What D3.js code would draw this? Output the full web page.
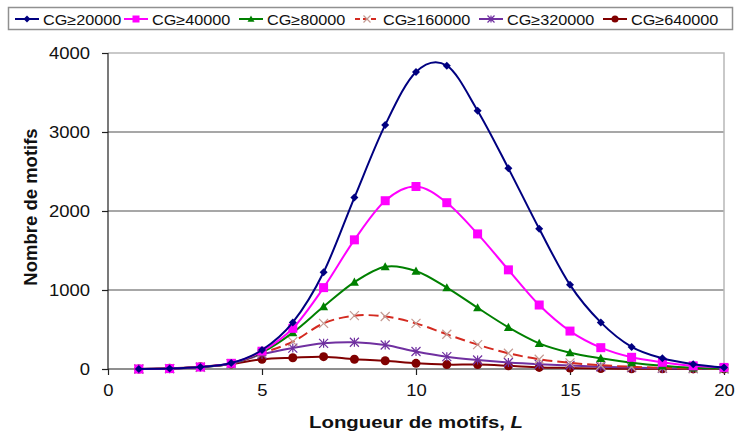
<!DOCTYPE html>
<html>
<head>
<meta charset="utf-8">
<script src="https://cdn.jsdelivr.net/npm/d3@7"></script>
<style>
    body { margin: 0; background: white; }
    svg { display: block; font-family: "Liberation Sans", Arial, sans-serif; }
</style>
</head>
<body>
<svg id="chart"></svg>
<script>

// longueur de motifs
let lengths = [1, 2, 3, 4, 5, 6, 7, 8, 9, 10, 11, 12, 13, 14, 15, 16, 17, 18, 19, 20];

let cg20000  = [0, 5, 25, 75, 240, 590, 1225, 2170, 3090, 3760, 3840, 3270, 2540, 1775, 1065, 590, 280, 135, 60, 18];
let cg40000  = [0, 5, 25, 72, 225, 515, 1030, 1635, 2130, 2310, 2105, 1710, 1255, 810, 480, 270, 148, 85, 40, 20];
let cg80000  = [0, 5, 24, 70, 210, 460, 790, 1100, 1295, 1240, 1030, 775, 528, 325, 206, 135, 80, 40, 15, 5];
let cg160000 = [0, 5, 24, 68, 200, 346, 578, 675, 665, 578, 440, 308, 199, 123, 78, 48, 28, 15, 8, 3];
let cg320000 = [0, 4, 22, 65, 185, 265, 325, 338, 304, 222, 156, 114, 82, 60, 45, 28, 17, 10, 5, 2];
let cg640000 = [0, 8, 29, 63, 123, 143, 156, 123, 104, 72, 56, 56, 40, 20, 13, 5, 3, 2, 1, 1];

let seriesNames = ["CG≥20000", "CG≥40000", "CG≥80000", "CG≥160000", "CG≥320000", "CG≥640000"];

let xTicks = [0, 5, 10, 15, 20];
let yTicks = [0, 1000, 2000, 3000, 4000];

let series = [
    { name: seriesNames[0], values: cg20000,  color: "#000080", marker: "diamond",  dash: null },
    { name: seriesNames[1], values: cg40000,  color: "#FF00FF", marker: "square",   dash: null },
    { name: seriesNames[2], values: cg80000,  color: "#008000", marker: "triangle", dash: null },
    { name: seriesNames[3], values: cg160000, color: "#D42A20", marker: "cross",    dash: "10,5", markerColor: "#C49A92" },
    { name: seriesNames[4], values: cg320000, color: "#7030A0", marker: "star",     dash: null },
    { name: seriesNames[5], values: cg640000, color: "#800000", marker: "circle",   dash: null }
];

let width = 736;
let height = 441;

let plotLeft = 108, plotRight = 724, plotTop = 53, plotBottom = 369;

// the original picture has its text a bit wider than plain Arial
let stretch = 1.12;

let svg = d3.select("#chart")
    .attr("width", width)
    .attr("height", height);

let scaleX = d3.scaleLinear().domain([0, 20]).range([plotLeft, plotRight]);
let scaleY = d3.scaleLinear().domain([0, 4000]).range([plotBottom, plotTop]);

// GRID + PLOT BORDER
svg.append("g")
    .selectAll("line")
    .data(yTicks.filter(t => t > 0 && t < 4000))
    .enter()
    .append("line")
    .attr("x1", plotLeft)
    .attr("x2", plotRight)
    .attr("y1", d => scaleY(d))
    .attr("y2", d => scaleY(d))
    .attr("stroke", "#505050")
    .attr("stroke-width", 1.2);

svg.append("path")
    .attr("d", `M${plotLeft},${scaleY(4000)}H${plotRight}V${plotBottom}`)
    .attr("fill", "none")
    .attr("stroke", "#b8b8b8")
    .attr("stroke-width", 1.5);

// AXES
let yAxis = d3.axisLeft(scaleY).tickValues(yTicks).tickFormat(d3.format("d")).tickSize(6).tickPadding(12);
let xAxis = d3.axisBottom(scaleX).tickValues(xTicks).tickFormat(d3.format("d")).tickSize(6).tickPadding(9);

let gy = svg.append("g").attr("transform", `translate(${plotLeft},0)`).call(yAxis);
let gx = svg.append("g").attr("transform", `translate(0,${plotBottom})`).call(xAxis);

for (let g of [gx, gy]) {
    g.select(".domain").attr("stroke", "#202020").attr("stroke-width", 1.2);
    g.selectAll(".tick line").attr("stroke", "#202020").attr("stroke-width", 1.2);
    g.selectAll(".tick text")
        .style("font-family", "'Liberation Sans', Arial, sans-serif")
        .style("font-size", "16.5px")
        .attr("fill", "#111")
        .each(function () {
            // widen around the anchor point
            let t = d3.select(this);
            let tx = +t.attr("x") || 0;
            let ty = +t.attr("y") || 0;
            t.attr("x", 0).attr("y", 0)
                .attr("transform", `translate(${tx},${ty}) scale(${stretch},1)`);
        });
}
gx.select(".domain").attr("d", `M${plotLeft},0H${plotRight}`);
gy.select(".domain").attr("d", `M0,${plotBottom}V${plotTop}`);

// AXIS TITLES
svg.append("text")
    .attr("transform", `translate(${(plotLeft + plotRight) / 2},428) scale(1.2,1)`)
    .attr("text-anchor", "middle")
    .style("font-size", "17px")
    .style("font-weight", "bold")
    .attr("fill", "#111")
    .html("Longueur de motifs, <tspan font-style='italic'>L</tspan>");

svg.append("text")
    .attr("transform", `translate(37,${(plotTop + plotBottom) / 2 - 4}) rotate(-90)`)
    .attr("text-anchor", "middle")
    .style("font-size", "18.5px")
    .style("font-weight", "bold")
    .attr("fill", "#111")
    .text("Nombre de motifs");

// MARKERS
function drawMarker(g, type, color, size) {
    let s = size / 2;
    if (type == "diamond") {
        g.append("path").attr("d", `M0,${-s}L${s},0L0,${s}L${-s},0Z`).attr("fill", color);
    } else if (type == "square") {
        g.append("rect").attr("x", -s).attr("y", -s).attr("width", size).attr("height", size).attr("fill", color);
    } else if (type == "triangle") {
        g.append("path").attr("d", `M0,${-s}L${s},${s * 0.8}L${-s},${s * 0.8}Z`).attr("fill", color);
    } else if (type == "circle") {
        g.append("circle").attr("r", s).attr("fill", color);
    } else if (type == "cross") {
        g.append("path").attr("d", `M${-s},${-s}L${s},${s}M${-s},${s}L${s},${-s}`)
            .attr("stroke", color).attr("stroke-width", 1.2);
    } else if (type == "star") {
        g.append("path").attr("d", `M${-s},${-s}L${s},${s}M${-s},${s}L${s},${-s}M0,${-s}V${s}`)
            .attr("stroke", color).attr("stroke-width", 1.2);
    }
}

let line = d3.line()
    .x((d, i) => scaleX(lengths[i]))
    .y(d => scaleY(d))
    .curve(d3.curveCardinal.tension(0));

let plot = svg.append("g");

// draw in reverse so the big series sits on top
for (let s of series.slice().reverse()) {
    let group = plot.append("g");

    group.append("path")
        .datum(s.values)
        .attr("d", line)
        .attr("fill", "none")
        .attr("stroke", s.color)
        .attr("stroke-width", 2)
        .attr("stroke-dasharray", s.dash);

    group.selectAll(".pt")
        .data(s.values)
        .enter()
        .append("g")
        .attr("class", "pt")
        .attr("transform", (d, i) => `translate(${scaleX(lengths[i])},${scaleY(d)})`)
        .each(function () {
            drawMarker(d3.select(this), s.marker, s.markerColor || s.color, s.marker == "diamond" ? 8 : 9);
        });
}

// LEGEND
svg.append("rect")
    .attr("x", 8.5)
    .attr("y", 7.5)
    .attr("width", 724)
    .attr("height", 22)
    .attr("fill", "white")
    .attr("stroke", "#909090")
    .attr("stroke-width", 1.5);

let legendX = [15, 124, 239, 355, 479, 603];

let legend = svg.selectAll(".legend-item")
    .data(series)
    .enter()
    .append("g")
    .attr("class", "legend-item")
    .attr("transform", (d, i) => `translate(${legendX[i]},19)`);

legend.append("line")
    .attr("x1", 0)
    .attr("x2", 24)
    .attr("stroke", d => d.color)
    .attr("stroke-width", 2)
    .attr("stroke-dasharray", d => d.dash ? "5,3" : null);

legend.append("g")
    .attr("transform", "translate(12,0)")
    .each(function (d) {
        drawMarker(d3.select(this), d.marker, d.markerColor || d.color, 7);
    });

legend.append("text")
    .attr("transform", `translate(28,5.5) scale(${stretch},1)`)
    .style("font-size", "14.5px")
    .attr("fill", "#111")
    .text(d => d.name);

</script>
</body>
</html>
